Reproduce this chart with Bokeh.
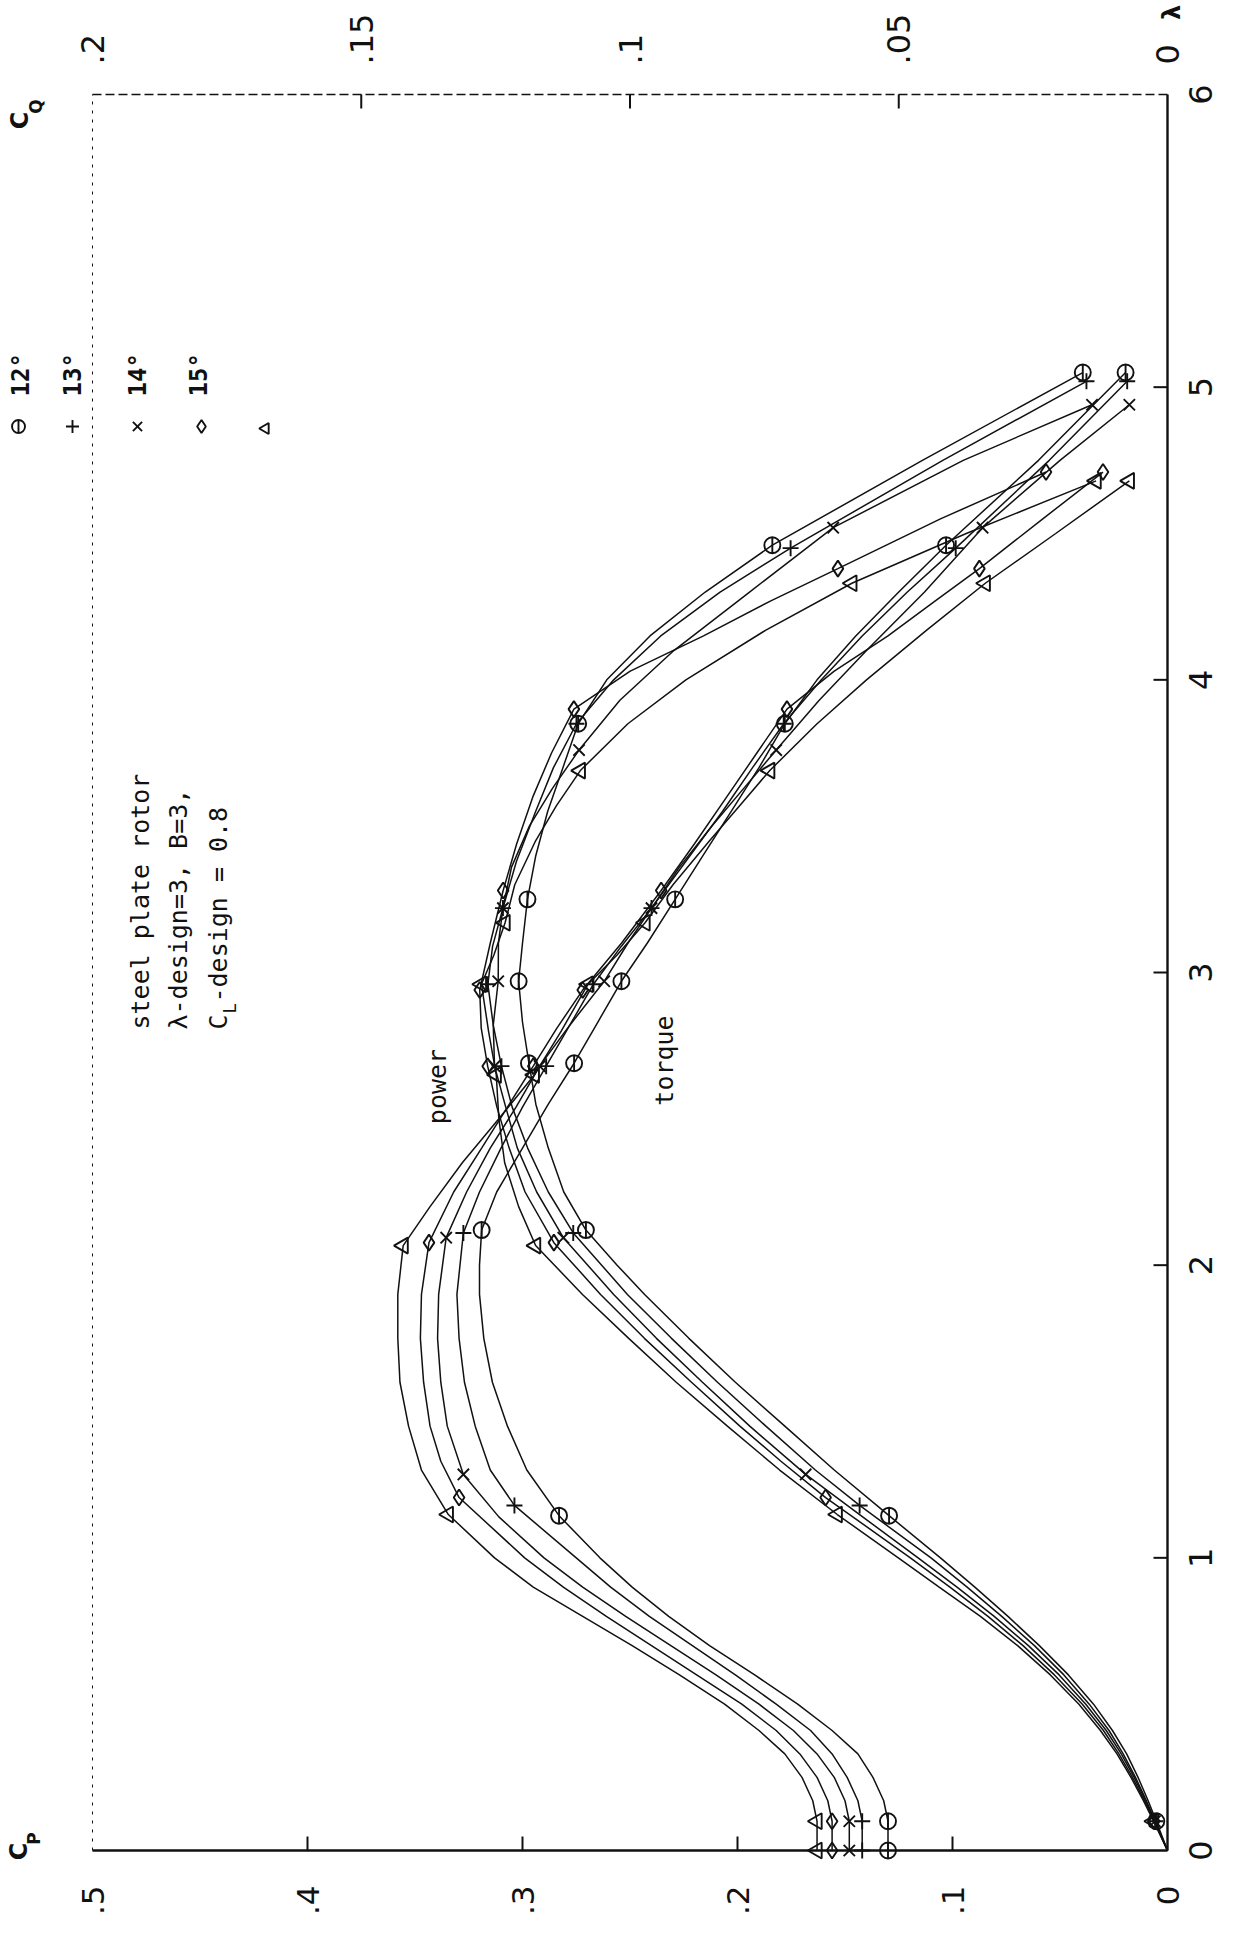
import math
from bokeh.plotting import figure
from bokeh.models import Range1d, Label
from bokeh.core.properties import value
from bokeh.embed import file_html
from bokeh.resources import INLINE

# ---------------- data ----------------
series_names = ["12°", "13°", "14°", "15°"]

# tip speed ratio where each curve was read (same for power and torque of a blade angle)
lam_12 = [0, 0.1, 0.17, 0.25, 0.33, 0.41, 0.5, 0.6, 0.7, 0.8, 0.9, 1.0, 1.144, 1.3, 1.45, 1.6, 1.75, 1.9, 2.0, 2.12, 2.25, 2.4, 2.55, 2.69, 2.83, 2.97, 3.1, 3.25, 3.4, 3.55, 3.7, 3.85, 4.0, 4.15, 4.3, 4.46, 4.75, 5.05]
cp_12  = [0, 0.0052, 0.009, 0.0137, 0.019, 0.0256, 0.0344, 0.0461, 0.0596, 0.0742, 0.0896, 0.1056, 0.1295, 0.155, 0.178, 0.201, 0.2226, 0.2432, 0.256, 0.2705, 0.2808, 0.288, 0.2938, 0.297, 0.300, 0.3018, 0.300, 0.2977, 0.2938, 0.2883, 0.2812, 0.2741, 0.2608, 0.2407, 0.215, 0.1838, 0.114, 0.0394]
cq_12  = [0.052, 0.052, 0.0528, 0.0548, 0.0576, 0.0624, 0.0688, 0.0768, 0.0852, 0.0928, 0.0996, 0.1056, 0.1132, 0.1192, 0.1228, 0.1256, 0.1272, 0.128, 0.128, 0.1276, 0.1248, 0.120, 0.1152, 0.1104, 0.106, 0.1016, 0.0968, 0.0916, 0.0864, 0.0812, 0.076, 0.0712, 0.0652, 0.058, 0.05, 0.0412, 0.024, 0.0078]

lam_13 = [0, 0.1, 0.17, 0.25, 0.33, 0.41, 0.5, 0.6, 0.7, 0.8, 0.9, 1.0, 1.179, 1.3, 1.45, 1.6, 1.75, 1.9, 2.11, 2.25, 2.4, 2.54, 2.68, 2.82, 2.96, 3.09, 3.22, 3.38, 3.55, 3.7, 3.85, 4.0, 4.15, 4.3, 4.45, 4.75, 5.02]
cp_13  = [0, 0.0057, 0.0098, 0.0149, 0.0206, 0.0272, 0.0364, 0.0482, 0.0619, 0.0771, 0.0932, 0.11, 0.1432, 0.1638, 0.1868, 0.2093, 0.2307, 0.2512, 0.2764, 0.288, 0.2976, 0.3048, 0.3098, 0.3136, 0.3161, 0.3139, 0.3091, 0.3028, 0.2939, 0.2856, 0.2749, 0.2576, 0.2357, 0.2081, 0.1753, 0.1045, 0.0377]
cq_13  = [0.0568, 0.0568, 0.0576, 0.0596, 0.0624, 0.0664, 0.0728, 0.0804, 0.0884, 0.0964, 0.1036, 0.11, 0.1215, 0.126, 0.1288, 0.1308, 0.1318, 0.1322, 0.131, 0.128, 0.124, 0.12, 0.1156, 0.1112, 0.1068, 0.1016, 0.096, 0.0896, 0.0828, 0.0772, 0.0714, 0.0644, 0.0568, 0.0484, 0.0394, 0.022, 0.0075]

lam_14 = [0, 0.1, 0.17, 0.25, 0.33, 0.41, 0.5, 0.6, 0.7, 0.8, 0.9, 1.0, 1.14, 1.285, 1.45, 1.6, 1.75, 1.9, 2.094, 2.25, 2.4, 2.54, 2.68, 2.82, 2.97, 3.1, 3.22, 3.36, 3.5, 3.63, 3.76, 3.93, 4.1, 4.3, 4.52, 4.75, 4.94]
cp_14  = [0, 0.0059, 0.0102, 0.0155, 0.0215, 0.0285, 0.038, 0.0504, 0.0647, 0.0806, 0.0979, 0.116, 0.1418, 0.1683, 0.1943, 0.2163, 0.2377, 0.2576, 0.281, 0.2934, 0.3024, 0.3078, 0.313, 0.3136, 0.3113, 0.3112, 0.3091, 0.3051, 0.2968, 0.286, 0.2737, 0.2547, 0.2296, 0.1944, 0.1555, 0.095, 0.0351]
cq_14  = [0.0592, 0.0592, 0.06, 0.062, 0.0652, 0.0696, 0.076, 0.084, 0.0924, 0.1008, 0.1088, 0.116, 0.1244, 0.131, 0.134, 0.1352, 0.1358, 0.1356, 0.1342, 0.1304, 0.126, 0.1212, 0.1168, 0.1112, 0.1048, 0.1004, 0.096, 0.0908, 0.0848, 0.0788, 0.0728, 0.0648, 0.056, 0.0452, 0.0344, 0.02, 0.0071]

lam_15 = [0, 0.1, 0.17, 0.25, 0.33, 0.41, 0.5, 0.6, 0.7, 0.8, 0.9, 1.0, 1.206, 1.33, 1.45, 1.6, 1.75, 1.9, 2.077, 2.25, 2.4, 2.54, 2.68, 2.81, 2.94, 3.1, 3.28, 3.44, 3.6, 3.75, 3.9, 4.03, 4.15, 4.27, 4.38, 4.55, 4.71]
cp_15  = [0, 0.0062, 0.0107, 0.0163, 0.0226, 0.0298, 0.0396, 0.0526, 0.0672, 0.0835, 0.1012, 0.1196, 0.159, 0.1798, 0.1989, 0.2214, 0.2433, 0.2637, 0.2854, 0.2988, 0.3062, 0.3119, 0.3162, 0.3192, 0.3199, 0.315, 0.309, 0.3027, 0.2952, 0.2865, 0.2761, 0.2499, 0.2158, 0.1845, 0.1533, 0.1056, 0.0565]
cq_15  = [0.0624, 0.0624, 0.0632, 0.0652, 0.0684, 0.0728, 0.0792, 0.0876, 0.096, 0.1044, 0.1124, 0.1196, 0.1318, 0.1352, 0.1372, 0.1384, 0.139, 0.1388, 0.1374, 0.1328, 0.1276, 0.1228, 0.118, 0.1136, 0.1088, 0.1016, 0.0942, 0.088, 0.082, 0.0764, 0.0708, 0.062, 0.052, 0.0432, 0.035, 0.0232, 0.012]

lam_16 = [0, 0.1, 0.17, 0.25, 0.33, 0.41, 0.5, 0.6, 0.7, 0.8, 0.9, 1.0, 1.148, 1.3, 1.45, 1.6, 1.75, 1.9, 2.067, 2.2, 2.35, 2.5, 2.65, 2.8, 2.96, 3.06, 3.17, 3.3, 3.45, 3.57, 3.69, 3.85, 4.0, 4.17, 4.33, 4.5, 4.68]
cp_16  = [0, 0.0065, 0.0112, 0.017, 0.0235, 0.0312, 0.0412, 0.0545, 0.0697, 0.087, 0.1062, 0.1252, 0.1536, 0.1804, 0.2047, 0.2285, 0.2506, 0.2721, 0.2939, 0.3018, 0.3083, 0.311, 0.3122, 0.3158, 0.3191, 0.3133, 0.3081, 0.3036, 0.2939, 0.2842, 0.2731, 0.251, 0.224, 0.1868, 0.1468, 0.0936, 0.0332]
cq_16  = [0.0652, 0.0652, 0.066, 0.068, 0.0712, 0.076, 0.0824, 0.0908, 0.0996, 0.1088, 0.118, 0.1252, 0.1338, 0.1388, 0.1412, 0.1428, 0.1432, 0.1432, 0.1422, 0.1372, 0.1312, 0.1244, 0.1178, 0.1128, 0.1078, 0.1024, 0.0972, 0.092, 0.0852, 0.0796, 0.074, 0.0652, 0.056, 0.0448, 0.0339, 0.0208, 0.0071]

# measured points (markers)
mk_lam_12 = [0.1, 1.144, 2.12, 2.69, 2.97, 3.25, 3.85, 4.46, 5.05]
mk_cp_12  = [0.0052, 0.1295, 0.2705, 0.297, 0.3018, 0.2977, 0.2741, 0.1838, 0.0394]
mk_cq_12  = [0.052, 0.1132, 0.1276, 0.1104, 0.1016, 0.0916, 0.0712, 0.0412, 0.0078]
mk_lam_13 = [0.1, 1.179, 2.11, 2.68, 2.96, 3.22, 3.85, 4.45, 5.02]
mk_cp_13  = [0.0057, 0.1432, 0.2764, 0.3098, 0.3161, 0.3091, 0.2749, 0.1753, 0.0377]
mk_cq_13  = [0.0568, 0.1215, 0.131, 0.1156, 0.1068, 0.096, 0.0714, 0.0394, 0.0075]
mk_lam_14 = [0.1, 1.285, 2.094, 2.68, 2.97, 3.22, 3.76, 4.52, 4.94]
mk_cp_14  = [0.0059, 0.1683, 0.281, 0.313, 0.3113, 0.3091, 0.2737, 0.1555, 0.0351]
mk_cq_14  = [0.0592, 0.131, 0.1342, 0.1168, 0.1048, 0.096, 0.0728, 0.0344, 0.0071]
mk_lam_15 = [0.1, 1.206, 2.077, 2.68, 2.94, 3.28, 3.9, 4.38, 4.71]
mk_cp_15  = [0.0062, 0.159, 0.2854, 0.3162, 0.3199, 0.309, 0.2761, 0.1533, 0.0565]
mk_cq_15  = [0.0624, 0.1318, 0.1374, 0.118, 0.1088, 0.0942, 0.0708, 0.035, 0.012]
mk_lam_16 = [0.1, 1.148, 2.067, 2.65, 2.96, 3.17, 3.69, 4.33, 4.68]
mk_cp_16  = [0.0065, 0.1536, 0.2939, 0.3122, 0.3191, 0.3081, 0.2731, 0.1468, 0.0332]
mk_cq_16  = [0.0652, 0.1338, 0.1422, 0.1178, 0.1078, 0.0972, 0.074, 0.0339, 0.0071]
# starting torque (rotor held at lambda = 0)
start_cq = [0.052, 0.0568, 0.0592, 0.0624, 0.0652]

# axes
cp_ticks = [0, 0.1, 0.2, 0.3, 0.4, 0.5]
cp_tick_labels = ["0", ".1", ".2", ".3", ".4", ".5"]
cq_ticks = [0, 0.05, 0.1, 0.15, 0.2]
cq_tick_labels = ["0", ".05", ".1", ".15", ".2"]
lam_ticks = [0, 1, 2, 3, 4, 5, 6]
lam_tick_labels = ["0", "1", "2", "3", "4", "5", "6"]
CP_MAX, CQ_MAX, LAM_MAX = 0.5, 0.2, 6.0

# ---------------- layout (canvas pixels) ----------------
W, H = 1227, 1920
BOX_L, BOX_R, BOX_T, BOX_B = 92, 1167, 94, 1850      # plot box inside the canvas
cp_per_px = CP_MAX / (BOX_R - BOX_L)
lam_per_px = LAM_MAX / (BOX_B - BOX_T)
cq_per_px = CQ_MAX / (BOX_R - BOX_L)

def cx(px):   # page x -> Cp
    return (BOX_R + 8 - px) * cp_per_px

def ly(py):   # page y -> lambda
    return (BOX_B + 8 - py) * lam_per_px

INK = "#111111"
p = figure(width=W, height=H,
           x_range=Range1d(CP_MAX + BOX_L * cp_per_px, -(W - BOX_R) * cp_per_px),
           y_range=Range1d(-(H - BOX_B) * lam_per_px, LAM_MAX + BOX_T * lam_per_px),
           output_backend="svg", toolbar_location=None,
           x_axis_location=None, y_axis_location=None)
p.min_border = 0
p.extra_x_ranges = {"cq": Range1d(CQ_MAX + BOX_L * cq_per_px, -(W - BOX_R) * cq_per_px)}
p.grid.visible = False
p.outline_line_color = None
p.background_fill_color = "white"
p.border_fill_color = "white"

# frame of the plot box
p.line([CP_MAX, 0], [0, 0], line_color=INK, line_width=2.4)
p.line([0, 0], [0, LAM_MAX], line_color=INK, line_width=2.4)
p.line([CP_MAX, 0], [LAM_MAX, LAM_MAX], line_color=INK, line_width=1.4, line_dash="9 4")
p.line([CP_MAX, CP_MAX], [0, LAM_MAX], line_color=INK, line_width=1.0, line_dash="3 6")

# ticks (pointing inwards)
TL = 14
bt = [t for t in cp_ticks if 0 < t < CP_MAX]
p.segment(bt, [0] * len(bt), bt, [TL * lam_per_px] * len(bt), line_color=INK, line_width=2)
rt = [t for t in lam_ticks if 0 < t < LAM_MAX]
p.segment([0] * len(rt), rt, [TL * cp_per_px] * len(rt), rt, line_color=INK, line_width=2)
tt = [t for t in cq_ticks if 0 < t < CQ_MAX]
p.segment(tt, [LAM_MAX] * len(tt), tt, [LAM_MAX - TL * lam_per_px] * len(tt),
          line_color=INK, line_width=2, x_range_name="cq")

# tick labels (rotated with the page)
TF = value("DejaVu Sans")
ROT = math.pi / 2
p.text(cp_ticks, [ly(1893)] * len(cp_ticks), text=cp_tick_labels, angle=ROT,
       text_font=TF, text_font_size="31px", text_color=INK, text_align="right", text_baseline="middle")
p.text([cx(1208)] * len(lam_ticks), lam_ticks, text=lam_tick_labels, angle=ROT,
       text_font=TF, text_font_size="32px", text_color=INK, text_align="center", text_baseline="middle")
p.text(cq_ticks, [ly(72)] * len(cq_ticks), text=cq_tick_labels, angle=ROT, x_range_name="cq",
       text_font=TF, text_font_size="32px", text_color=INK, text_align="left", text_baseline="middle")

# ---------------- curves ----------------
curves = [(lam_12, cp_12, cq_12), (lam_13, cp_13, cq_13), (lam_14, cp_14, cq_14),
          (lam_15, cp_15, cq_15), (lam_16, cp_16, cq_16)]
points = [(mk_lam_12, mk_cp_12, mk_cq_12), (mk_lam_13, mk_cp_13, mk_cq_13), (mk_lam_14, mk_cp_14, mk_cq_14),
          (mk_lam_15, mk_cp_15, mk_cq_15), (mk_lam_16, mk_cp_16, mk_cq_16)]

markers = ["circle", "cross", "x", "diamond", "triangle"]
angles = [0, 0, 0, 0, math.pi / 2]

for lam, cp, cq in curves:
    p.line(cp, lam, line_color=INK, line_width=1.5)
    p.line(cq, lam, line_color=INK, line_width=1.5, x_range_name="cq")

def put_markers(xs, ys, i, rng="default", size=16):
    p.scatter(xs, ys, marker=markers[i], size=size, angle=angles[i], fill_color=None,
              line_color=INK, line_width=1.9, x_range_name=rng)
    if markers[i] == "circle":
        p.scatter(xs, ys, marker="dash", size=size, angle=math.pi / 2, line_color=INK,
                  line_width=1.9, x_range_name=rng)

for i, (lam, cp, cq) in enumerate(points):
    put_markers(cp, lam, i)
    put_markers(cq, lam, i, "cq")
    put_markers([start_cq[i]], [0], i, "cq")

# ---------------- texts ----------------
MONO = "DejaVu Sans Mono"

def txt(px, py, s, size="24px", align="center", bold=False, font=MONO):
    p.add_layout(Label(x=cx(px), y=ly(py), text=s, angle=ROT, text_font=font,
                       text_font_size=size, text_align=align, text_baseline="middle",
                       text_color=INK, text_font_style="bold" if bold else "normal"))

# axis titles
txt(26, 1859, "C", "24px", bold=True, font="DejaVu Sans")
txt(41, 1846, "P", "17px", bold=True, font="DejaVu Sans")
txt(27, 128, "C", "24px", bold=True, font="DejaVu Sans")
txt(43, 114, "Q", "17px", bold=True, font="DejaVu Sans")
txt(1179, 20, "λ", "24px", bold=True, font="DejaVu Sans")

# annotation block
txt(148, 1037, "steel plate rotor", "25px", "left")
txt(186, 1037, "λ-design=3, B=3,", "25px", "left")
txt(226, 1037, "C", "25px", "left")
txt(237, 1021, "L", "17px", "left")
txt(226, 1010, "-design = 0.8", "25px", "left")
txt(445, 1094, "power", "25px")
txt(672, 1068, "torque", "25px")

# legend
leg_text_x = [28, 80, 145, 206]
leg_mark_x = [26, 80, 145, 209]
for i, (tx, mx, name) in enumerate(zip(leg_text_x, leg_mark_x, series_names)):
    txt(tx, 404, name, "24px", "left", bold=True)
    put_markers([cx(mx)], [ly(434)], i, size=13)
put_markers([cx(273)], [ly(436)], 4, size=11)

open("out.html", "w").write(file_html(p, INLINE))
